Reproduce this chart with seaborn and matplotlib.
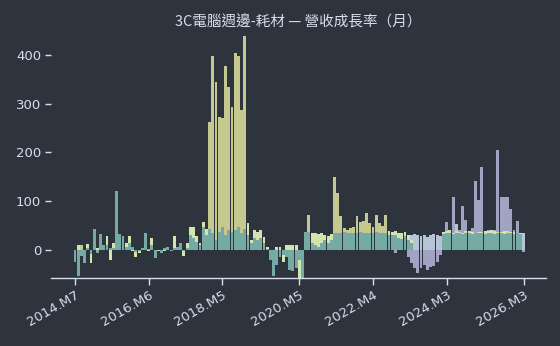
import numpy as np
import pandas as pd
import matplotlib
matplotlib.use("Agg")
import matplotlib.pyplot as plt
import seaborn as sns

# ---------------- data ----------------
start_year, start_month, n_months = 2014, 7, 141
months = []
y, m = start_year, start_month
for _ in range(n_months):
    months.append(f"{y}.M{m}")
    m += 1
    if m > 12:
        m = 1
        y += 1

tick_labels = ["2014.M7", "2016.M6", "2018.M5", "2020.M5", "2022.M4", "2024.M3", "2026.M3"]

olive = [0, 0, 10, 0, 0, 0, 0, 0, 0, 0,
         0, 0, 0, 0, 0, 0, 0, 0, 0, 0,
         0, 0, 0, 0, 0, 0, 0, 0, 0, 0,
         0, 0, 0, 0, 0, 0, 0, 0, 0, 0,
         0, 0, 263, 398, 345, 272, 270, 377, 335, 294,
         404, 398, 287, 438, 55, 0, 0, 0, 0, 0,
         0, 0, 0, 0, 0, 0, 0, 0, 0, 0,
         0, 0, 0, 71, 0, 0, 0, 0, 0, 0,
         0, 150, 117, 69, 45, 42, 46, 48, 69, 58,
         60, 75, 56, 48, 71, 56, 50, 71, 0, 0,
         0, 0, 0, 0, 0, 0, 0, 0, 0, 0,
         0, 0, 0, 0, 0, 0, 0, 0, 0, 0,
         0, 0, 0, 0, 0, 0, 0, 0, 0, 0,
         0, 0, 0, 0, 0, 0, 0, 0, 0, 0,
         0]

pale = [-10, 10, 0, -15, 12, -27, 10, 5, 15, 8,
        29, -20, 15, 10, 20, 10, 14, 29, -3, -14,
        -6, 1, 8, -2, 24, -14, -3, 1, -3, 3,
        -2, 29, 0, 14, -12, 14, 48, 48, 29, 14,
        58, 44, 0, 0, 0, 0, 0, 0, 0, 0,
        0, 0, 0, 0, 55, 20, 41, 37, 41, 26,
        7, -10, -20, 7, 7, -24, 10, 10, 10, 10,
        -58, -37, 37, 35, 34, 34, 33, 34, 30, 29,
        33, 0, 0, 0, 0, 0, 0, 0, 0, 0,
        0, 0, 0, 0, 0, 0, 0, 0, 38, 36,
        39, 35, 35, 36, 30, 20, 0, 0, 0, 0,
        0, 0, 0, 0, 0, 37, 40, 41, 35, 38,
        36, 35, 38, 40, 36, 35, 37, 36, 38, 40,
        42, 38, 36, 37, 40, 38, 36, 37, 35, 34,
        0]

teal = [-24, -54, -12, -26, 5, -8, 43, -7, 33, 10,
        10, 5, 5, 120, 33, 29, 7, 14, 7, -5,
        -3, 5, 34, 3, 10, -17, 0, -7, 5, 6,
        -3, 5, 6, 15, -2, 5, 30, 25, 17, 10,
        48, 30, 44, 34, 20, 37, 48, 30, 41, 37,
        41, 48, 35, 44, 30, 15, 25, 20, 25, 15,
        2, -20, -54, -31, -14, -10, -14, -40, -44, -37,
        -20, -58, 37, 37, 14, 10, 7, 14, 20, 14,
        20, 35, 34, 35, 36, 35, 34, 35, 35, 36,
        35, 34, 35, 35, 36, 35, 34, 35, 31, 31,
        31, 25, 22, 28, 20, 15, 0, 0, 0, 0,
        0, 0, 0, 0, 0, 33, 34, 35, 33, 34,
        35, 33, 34, 35, 33, 34, 35, 34, 33, 35,
        34, 33, 35, 34, 33, 35, 34, 33, 34, 33,
        0]

lavender = [0] * 100 + [
    -7, 0, 0, 0, -14, -27, -37, -48, -37, -31,
    -41, -35, -33, -24, -10, 20, 58, 30, 109, 40,
    41, 90, 61, 30, 45, 141, 102, 170, 37, 41,
    30, 41, 204, 109, 109, 109, 85, 41, 59, 30,
    -5]

steel = [0] * 104 + [
    28, 30, 32, 30, 28, 30, 27, 30, 32, 30,
    28, 0, 0, 0, 0, 54, 0, 0, 0, 0,
    0, 0, 0, 0, 0, 0, 42, 0, 0, 0,
    0, 0, 0, 0, 0, 34, 34]

series = [
    ("olive", olive, "#c5c98f"),
    ("lavender", lavender, "#a0a3c1"),
    ("steel", steel, "#b7c3d6"),
    ("pale", pale, "#d3e4ac"),
    ("teal", teal, "#76aaa4"),
]

# ---------------- plot ----------------
bg = "#2e343e"
fg = "#d8dee9"
sns.set_theme(style="dark")
plt.rcParams["font.family"] = ["DejaVu Sans", "Noto Sans CJK TC"]

fig = plt.figure(figsize=(5.6, 3.46), dpi=100)
fig.patch.set_facecolor(bg)
ax = fig.add_axes([0.091, 0.197, 0.884, 0.715])
ax.set_facecolor(bg)

idx = np.arange(n_months)
for name, vals, col in series:
    df = pd.DataFrame({"i": idx, "v": vals})
    sns.barplot(data=df, x="i", y="v", native_scale=True, width=0.9,
                color=col, saturation=1, errorbar=None, linewidth=0, ax=ax)

ax.set_xlim(-7.5, 147)
ax.set_ylim(-57, 450)
tick_pos = [months.index(t) for t in tick_labels]
ax.set_xticks(tick_pos)
ax.set_xticklabels(tick_labels, rotation=30, ha="right", rotation_mode="anchor")
ax.set_yticks([0, 100, 200, 300, 400])
ax.set_xlabel("")
ax.set_ylabel("")
ax.grid(False)

for s in ["top", "right", "left"]:
    ax.spines[s].set_visible(False)
ax.spines["bottom"].set_color(fg)
ax.spines["bottom"].set_linewidth(1.0)
ax.tick_params(axis="x", colors=fg, labelsize=9.5, length=5, width=1, direction="out",
               bottom=True, pad=3)
ax.tick_params(axis="y", colors=fg, labelsize=9.5, length=4, width=1, direction="out",
               left=True, pad=3)

ax.set_title("3C電腦週邊-耗材 — 營收成長率（月）", color=fg, fontsize=10.5,
             family=["Noto Sans CJK TC", "DejaVu Sans"], pad=3)

fig.savefig("out.png", dpi=100, facecolor=bg)
